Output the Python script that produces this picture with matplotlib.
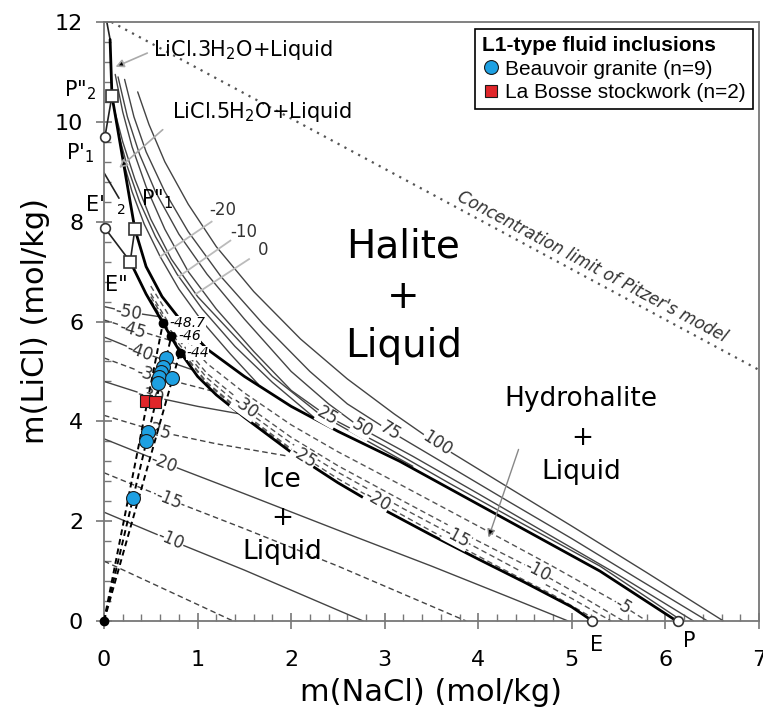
import matplotlib.pyplot as plt
from matplotlib.lines import Line2D
from matplotlib.ticker import MultipleLocator

plt.rcParams['font.family'] = ['DejaVu Sans']

# fluid inclusions, m(NaCl) / m(LiCl)
beauvoir_nacl = [0.66, 0.63, 0.61, 0.59, 0.58, 0.73, 0.47, 0.45, 0.31]
beauvoir_licl = [5.27, 5.09, 4.99, 4.89, 4.77, 4.87, 3.79, 3.61, 2.46]
bosse_nacl = [0.45, 0.55]
bosse_licl = [4.41, 4.39]

# final ice melting on the cotectic
tm_nacl = [0.63, 0.72, 0.81]
tm_licl = [5.97, 5.71, 5.37]
tm_labels = ['-48.7', '-46', '-44']

# cotectics (thick)
e_cotectic = [(0.28, 7.2), (0.45, 6.55), (0.63, 5.97), (0.72, 5.68), (0.81, 5.4), (1.0, 4.9),
              (1.2, 4.53), (1.5, 4.08), (2.0, 3.38), (2.5, 2.77), (3.0, 2.22), (3.5, 1.72),
              (4.0, 1.24), (4.5, 0.77), (5.0, 0.28), (5.22, 0)]
p_cotectic = [(0.33, 7.85), (0.45, 7.1), (0.62, 6.5), (0.85, 5.95), (1.1, 5.45), (1.5, 4.9),
              (2.0, 4.3), (2.5, 3.8), (3.16, 3.2), (4.23, 2.1), (5.3, 1.0), (6.12, 0)]
hydrate_thick = [(0.065, 11.65), (0.085, 10.52), (0.33, 7.85)]
hydrate_thin = [
    [(0.03, 12.0), (0.065, 11.65)],
    [(0.01, 9.7), (0.085, 10.52)],
    [(0.01, 7.87), (0.28, 7.2), (0.33, 7.85)],
    [(0.0, 8.98), (0.16, 8.47)],
]

# ice + liquid isotherms
ice_m50 = [(0, 6.30), (0.26, 6.19), (0.58, 6.10)]
ice_m45 = [(0, 6.03), (0.31, 5.85), (0.75, 5.60)]
ice_m40 = [(0, 5.69), (0.38, 5.40), (0.95, 5.03)]
ice_m35 = [(0, 5.27), (0.49, 4.93), (1.15, 4.61)]
ice_m30 = [(0, 4.80), (0.5, 4.50), (1.0, 4.30), (1.45, 4.15)]
ice_m25 = [(0, 4.12), (0.57, 3.80), (1.2, 3.55), (2.1, 3.26)]
ice_m20 = [(0, 3.65), (0.64, 3.17), (1.5, 2.55), (2.5, 1.82), (3.5, 1.10), (4.3, 0.50), (4.96, 0)]
ice_m15 = [(0, 2.97), (0.69, 2.44), (1.5, 1.85), (2.5, 1.10), (3.87, 0)]
ice_m10 = [(0, 2.18), (0.71, 1.62), (1.5, 1.02), (2.77, 0)]
ice_m5 = [(0, 1.20), (1.38, 0)]

# hydrohalite + liquid isotherms
hh_m5 = [(0.5, 6.71), (0.8, 5.8), (1.1, 5.16), (1.5, 4.57), (2.0, 3.93), (2.5, 3.39), (3.2, 2.70),
         (4.0, 1.90), (4.8, 1.09), (5.55, 0.30), (5.8, 0)]
hh_m10 = [(0.5, 6.56), (0.8, 5.63), (1.1, 4.96), (1.5, 4.35), (2.0, 3.68), (2.5, 3.11), (3.2, 2.40),
          (4.0, 1.60), (4.63, 1.0), (5.1, 0.5), (5.55, 0)]
hh_m15 = [(0.5, 6.5), (0.8, 5.55), (1.1, 4.87), (1.5, 4.24), (2.0, 3.56), (2.5, 2.98), (3.2, 2.25),
          (3.77, 1.68), (4.5, 0.95), (5.0, 0.45), (5.42, 0)]
hh_m20 = [(0.5, 6.43), (0.8, 5.48), (1.1, 4.78), (1.5, 4.15), (2.0, 3.45), (2.5, 2.85), (2.92, 2.40),
          (3.5, 1.80), (4.2, 1.10), (4.8, 0.52), (5.28, 0)]
hh_m25 = [(0.5, 6.42), (0.8, 5.46), (1.1, 4.76), (1.5, 4.12), (2.0, 3.42), (2.13, 3.25)]

# halite + liquid isotherms
hal_m20 = [(0.2, 9.25), (0.3, 8.6), (0.43, 7.95), (0.6, 7.3), (0.8, 6.65), (1.05, 6.0), (1.35, 5.35),
           (1.65, 4.74)]
hal_m10 = [(0.156, 9.75), (0.25, 9.1), (0.38, 8.4), (0.55, 7.7), (0.78, 6.95), (1.05, 6.25), (1.4, 5.5),
           (1.8, 4.78), (2.25, 4.07)]
hal_0 = [(0.11, 10.25), (0.2, 9.6), (0.33, 8.85), (0.5, 8.05), (0.72, 7.25), (1.0, 6.5), (1.35, 5.8),
         (1.8, 4.9), (2.3, 4.15), (2.8, 3.62), (3.3, 3.1)]
hal_25 = [(0.12, 10.95), (0.2, 10.2), (0.3, 9.5), (0.45, 8.7), (0.65, 7.85), (0.9, 7.0), (1.2, 6.25),
          (1.6, 5.4), (2.0, 4.62), (2.39, 4.1), (3.0, 3.5), (3.7, 2.75), (4.5, 1.92), (5.3, 1.1), (6.18, 0)]
hal_50 = [(0.15, 10.9), (0.25, 10.1), (0.38, 9.35), (0.55, 8.6), (0.8, 7.75), (1.1, 6.95), (1.5, 6.05),
          (2.0, 5.0), (2.4, 4.35), (2.76, 3.85), (3.3, 3.3), (4.0, 2.55), (4.8, 1.68), (5.5, 0.92), (6.3, 0)]
hal_75 = [(0.22, 10.85), (0.32, 10.1), (0.45, 9.4), (0.65, 8.6), (0.9, 7.8), (1.25, 6.9), (1.7, 5.95),
          (2.2, 5.0), (2.6, 4.35), (3.06, 3.8), (3.6, 3.2), (4.3, 2.42), (5.0, 1.65), (5.7, 0.85), (6.45, 0)]
hal_100 = [(0.36, 10.6), (0.48, 9.95), (0.65, 9.2), (0.9, 8.35), (1.2, 7.5), (1.6, 6.6), (2.1, 5.65),
           (2.6, 4.85), (3.1, 4.15), (3.56, 3.55), (4.3, 2.7), (5.0, 1.9), (5.8, 0.97), (6.62, 0)]

pitzer_x = [0.08, 7.0]
pitzer_y = [12.0, 5.03]

# invariant points
open_circles = [(0.01, 9.7), (0.01, 7.87), (5.22, 0), (6.13, 0)]
open_squares = [(0.085, 10.52), (0.33, 7.85), (0.28, 7.2)]

blue = '#1ea0e2'
red = '#e0262a'
grey = '#444444'
dash = (0, (4, 2.5))

fig = plt.figure(figsize=(7.63, 7.13), dpi=100)
ax = fig.add_axes([104 / 763, 92 / 713, 655 / 763, 599 / 713])


def curve(pts, ls='-', lw=1.0, color=grey, z=2):
    xs, ys = zip(*pts)
    ax.plot(xs, ys, ls=ls, lw=lw, color=color, zorder=z, solid_capstyle='round')


def tag(x, y, s, rot=0, size=12, style='normal'):
    ax.text(x, y, s, rotation=rot, rotation_mode='anchor', ha='center', va='center',
            fontsize=size, style=style, color='#333333', zorder=3,
            bbox=dict(fc='white', ec='none', pad=0.3))


# isotherms
ice_lines = [(ice_m50, '-'), (ice_m45, dash), (ice_m40, '-'), (ice_m35, dash), (ice_m30, '-'),
             (ice_m25, dash), (ice_m20, '-'), (ice_m15, dash), (ice_m10, '-'), (ice_m5, dash)]
for pts, ls in ice_lines:
    curve(pts, ls=ls)
for pts in [hh_m5, hh_m10, hh_m15, hh_m20, hh_m25]:
    curve(pts, ls=dash, color='#555555')
for pts in [hal_m20, hal_m10, hal_0, hal_25, hal_50, hal_75, hal_100]:
    curve(pts)

# cotectics
curve(e_cotectic, lw=2.0, color='k', z=2.5)
curve(p_cotectic, lw=2.0, color='k', z=2.5)
curve(hydrate_thick, lw=2.0, color='k', z=2.5)
for pts in hydrate_thin:
    curve(pts, lw=1.2, color='#222222')

ax.plot(pitzer_x, pitzer_y, ls=(0, (1, 2.5)), lw=1.6, color='#555555', zorder=2)

# isotherm labels
ice_tags = [(0.26, 6.19, '-50', -10), (0.31, 5.84, '-45', -16), (0.38, 5.40, '-40', -20),
            (0.49, 4.93, '-35', -16), (0.5, 4.50, '-30', -13), (0.57, 3.80, '-25', -16),
            (0.64, 3.17, '-20', -21), (0.69, 2.44, '-15', -22), (0.71, 1.62, '-10', -23)]
for x, y, s, r in ice_tags:
    tag(x, y, s, r)
hh_tags = [(1.51, 4.29, '-30', -36), (2.13, 3.29, '-25', -32), (2.92, 2.42, '-20', -30),
           (3.77, 1.68, '-15', -28), (4.63, 1.0, '-10', -28), (5.55, 0.3, '-5', -32)]
for x, y, s, r in hh_tags:
    tag(x, y, s, r)
hal_tags = [(2.39, 4.1, '25', -30), (2.76, 3.86, '50', -31), (3.06, 3.8, '75', -31),
            (3.56, 3.55, '100', -33)]
for x, y, s, r in hal_tags:
    tag(x, y, s, r)

# leader labels for sub-zero halite isotherms
lead_tags = [('-20', (1.27, 8.24), (1.15, 8.0), (0.6, 7.3)),
             ('-10', (1.49, 7.8), (1.35, 7.62), (0.8, 6.9)),
             ('0', (1.7, 7.43), (1.55, 7.25), (0.98, 6.55))]
for s, tpos, p0, p1 in lead_tags:
    ax.plot([p0[0], p1[0]], [p0[1], p1[1]], color='#bbbbbb', lw=1.3, zorder=2.6)
    ax.text(tpos[0], tpos[1], s, fontsize=12, ha='center', va='center', color='#333333')

# dilution lines from the origin to the cotectic
for x, y in zip(tm_nacl, tm_licl):
    ax.plot([0, x], [0, y], color='k', ls=(0, (3, 2)), lw=1.4, zorder=4)
ax.plot(tm_nacl, tm_licl, 'o', color='k', ms=6, zorder=6)
ax.plot([0], [0], 'o', color='k', ms=6, zorder=6, clip_on=False)
for x, y, s in zip(tm_nacl, tm_licl, tm_labels):
    ax.text(x + 0.07, y, s, fontsize=10, style='italic', ha='left', va='center', zorder=6,
            bbox=dict(fc='white', ec='none', pad=0.1))

# invariant points
cx, cy = zip(*open_circles)
ax.plot(cx, cy, 'o', ms=7, mfc='white', mec='#333333', mew=1.2, ls='', zorder=6, clip_on=False)
sx, sy = zip(*open_squares)
ax.plot(sx, sy, 's', ms=8, mfc='white', mec='#333333', mew=1.2, ls='', zorder=6, clip_on=False)

# fluid inclusions
ax.plot(beauvoir_nacl, beauvoir_licl, 'o', ms=10, mfc=blue, mec='#1a1a1a', mew=0.8, ls='', zorder=7)
ax.plot(bosse_nacl, bosse_licl, 's', ms=9, mfc=red, mec='#1a1a1a', mew=0.8, ls='', zorder=7)

# field names
ax.text(3.2, 7.5, 'Halite', fontsize=28, ha='center', va='center')
ax.text(3.2, 6.5, '+', fontsize=28, ha='center', va='center')
ax.text(3.2, 5.5, 'Liquid', fontsize=28, ha='center', va='center')
ax.text(5.1, 4.45, 'Hydrohalite', fontsize=19, ha='center', va='center')
ax.text(5.11, 3.67, '+', fontsize=19, ha='center', va='center')
ax.text(5.1, 2.99, 'Liquid', fontsize=19, ha='center', va='center')
ax.text(1.9, 2.83, 'Ice', fontsize=19, ha='center', va='center')
ax.text(1.91, 2.06, '+', fontsize=19, ha='center', va='center')
ax.text(1.9, 1.38, 'Liquid', fontsize=19, ha='center', va='center')
ax.text(0.52, 11.44, 'LiCl.3H$_2$O+Liquid', fontsize=15, ha='left', va='center')
ax.text(0.73, 10.2, 'LiCl.5H$_2$O+Liquid', fontsize=15, ha='left', va='center')
ax.text(5.22, 7.1, "Concentration limit of Pitzer's model", rotation=-28, rotation_mode='anchor',
        fontsize=12, style='italic', ha='center', va='center', color='#333333')

# arrows
ax.annotate('', xy=(0.096, 11.08), xytext=(0.49, 11.4),
            arrowprops=dict(arrowstyle='-|>', ec='#aaaaaa', fc='k', lw=1.2, mutation_scale=12))
ax.annotate('', xy=(0.14, 9.04), xytext=(0.65, 9.88),
            arrowprops=dict(arrowstyle='-|>', ec='#aaaaaa', fc='k', lw=1.2, mutation_scale=12))
ax.annotate('', xy=(4.1, 1.62), xytext=(4.44, 3.49),
            arrowprops=dict(arrowstyle='-|>', ec='#888888', fc='k', lw=1.0, mutation_scale=12))

# invariant point names
ax.text(-0.25, 10.64, 'P"$_2$', fontsize=15, ha='center', va='center')
ax.text(-0.25, 9.38, "P'$_1$", fontsize=15, ha='center', va='center')
ax.text(-0.09, 8.34, "E'", fontsize=15, ha='center', va='center')
ax.text(0.19, 8.24, '2', fontsize=10, ha='center', va='center')
ax.text(0.57, 8.45, 'P"$_1$', fontsize=15, ha='center', va='center')
ax.text(0.13, 6.73, 'E"', fontsize=15, ha='center', va='center')
ax.text(5.26, -0.48, 'E', fontsize=15, ha='center', va='center')
ax.text(6.25, -0.4, 'P', fontsize=15, ha='center', va='center')

ax.set_xlim(0, 7)
ax.set_ylim(0, 12)
ax.xaxis.set_major_locator(MultipleLocator(1))
ax.xaxis.set_minor_locator(MultipleLocator(0.2))
ax.yaxis.set_major_locator(MultipleLocator(2))
ax.yaxis.set_minor_locator(MultipleLocator(0.4))
ax.tick_params(which='major', direction='inout', length=12, width=1.2, color='#777777', labelsize=16)
ax.tick_params(which='minor', direction='in', length=5, width=1.0, color='#777777')
ax.tick_params(axis='x', which='major', pad=15)
ax.tick_params(axis='y', which='major', pad=9)
for sp in ax.spines.values():
    sp.set_color('#777777')
    sp.set_linewidth(1.3)

ax.set_xlabel('m(NaCl) (mol/kg)', fontsize=22)
ax.xaxis.set_label_coords(0.5, -0.12)
ax.xaxis.label.set_va('center')
ax.set_ylabel('m(LiCl) (mol/kg)', fontsize=22)
ax.yaxis.set_label_coords(-0.105, 0.5)
ax.yaxis.label.set_va('center')

handles = [Line2D([], [], ls='', marker='o', ms=10, mfc=blue, mec='#1a1a1a', mew=0.8),
           Line2D([], [], ls='', marker='s', ms=9, mfc=red, mec='#1a1a1a', mew=0.8)]
leg = ax.legend(handles, ['Beauvoir granite (n=9)', 'La Bosse stockwork (n=2)'],
                title='L1-type fluid inclusions', loc='upper right', bbox_to_anchor=(0.991, 0.988),
                frameon=True, fancybox=False, edgecolor='k', framealpha=1,
                prop=dict(family='Liberation Sans', size=15),
                title_fontproperties=dict(family='Liberation Sans', size=15, weight='bold'),
                alignment='left', handlelength=0.8, handletextpad=0.3, labelspacing=0.2,
                borderpad=0.35, borderaxespad=0)
leg.get_frame().set_linewidth(1.2)
leg.set_zorder(10)

fig.savefig('out.png', dpi=100)
